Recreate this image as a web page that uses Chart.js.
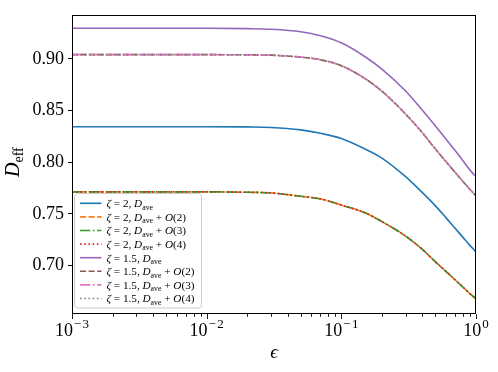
<!DOCTYPE html>
<html lang="en">
<head>
<meta charset="UTF-8">
<title>D_eff versus epsilon</title>
<script src="https://cdn.jsdelivr.net/npm/chart.js@4.4.0/dist/chart.umd.min.js"></script>
<style>
  html, body { margin: 0; padding: 0; background: #fff; }
</style>
</head>
<body>
<canvas id="chart" width="498" height="372"></canvas>
<script>
// values
const epsValues = [0.001, 0.01, 0.02, 0.03, 0.05, 0.07, 0.1, 0.15, 0.2, 0.3, 0.4, 0.5, 0.6, 0.7, 0.8, 0.9, 1.0];

const zeta2Ave   = [0.8344, 0.8344, 0.8342, 0.8337, 0.8313, 0.8280, 0.8230, 0.8128, 0.8040, 0.7860, 0.7705, 0.7577, 0.7461, 0.7360, 0.7272, 0.7195, 0.7132];
const zeta2O2    = [0.7713, 0.7713, 0.7709, 0.7703, 0.7670, 0.7645, 0.7585, 0.7510, 0.7425, 0.7285, 0.7155, 0.7035, 0.6941, 0.6861, 0.6790, 0.6728, 0.6676];
const zeta2O3    = [0.7713, 0.7713, 0.7709, 0.7703, 0.7670, 0.7645, 0.7585, 0.7510, 0.7425, 0.7285, 0.7155, 0.7035, 0.6941, 0.6861, 0.6790, 0.6728, 0.6676];
const zeta2O4    = [0.7713, 0.7713, 0.7709, 0.7703, 0.7670, 0.7645, 0.7585, 0.7510, 0.7425, 0.7285, 0.7155, 0.7035, 0.6941, 0.6861, 0.6790, 0.6728, 0.6676];
const zeta15Ave  = [0.9297, 0.9297, 0.9294, 0.9288, 0.9264, 0.9226, 0.9157, 0.9022, 0.8902, 0.8690, 0.8503, 0.8350, 0.8222, 0.8113, 0.8015, 0.7926, 0.7860];
const zeta15O2   = [0.9042, 0.9042, 0.9040, 0.9037, 0.9018, 0.8993, 0.8935, 0.8810, 0.8688, 0.8467, 0.8285, 0.8127, 0.8004, 0.7902, 0.7814, 0.7738, 0.7675];
const zeta15O3   = [0.9042, 0.9042, 0.9040, 0.9037, 0.9018, 0.8993, 0.8935, 0.8810, 0.8688, 0.8467, 0.8285, 0.8127, 0.8004, 0.7902, 0.7814, 0.7738, 0.7675];
const zeta15O4   = [0.9042, 0.9042, 0.9040, 0.9037, 0.9018, 0.8993, 0.8935, 0.8810, 0.8688, 0.8467, 0.8285, 0.8127, 0.8004, 0.7902, 0.7814, 0.7738, 0.7675];

const zetaLabels = ['2', '2', '2', '2', '1.5', '1.5', '1.5', '1.5'];
const orderLabels = [null, '2', '3', '4', null, '2', '3', '4'];
const yTickValues = [0.70, 0.75, 0.80, 0.85, 0.90];
const xTickExponents = [-3, -2, -1, 0];

// styles
const seriesColors = ['#1f77b4', '#ff7f0e', '#2ca02c', '#d62728', '#9467bd', '#8c564b', '#e377c2', '#7f7f7f'];
const lw = 1.6;
const solid = [], dashed = [6, 2.6], dashDot = [10.3, 2.6, 1.6, 2.6], dotted = [1.6, 2.6];
const seriesDashes = [solid, dashed, dashDot, dotted, solid, dashed, dashDot, dotted];
const allSeries = [zeta2Ave, zeta2O2, zeta2O3, zeta2O4, zeta15Ave, zeta15O2, zeta15O3, zeta15O4];

const SERIF = '"Liberation Serif", "DejaVu Serif", serif';

const datasets = allSeries.map((vals, i) => ({
    label: 'ζ = ' + zetaLabels[i] + ', D_ave' + (orderLabels[i] ? ' + O(' + orderLabels[i] + ')' : ''),
    data: vals.map((v, j) => ({x: epsValues[j], y: v})),
    borderColor: seriesColors[i],
    borderWidth: lw,
    borderDash: seriesDashes[i],
    pointRadius: 0,
    fill: false,
    cubicInterpolationMode: 'monotone',
    order: allSeries.length - 1 - i
}));

function drawMath(ctx, parts, x, y, size) {
    for (const p of parts) {
        const fs = p.sub ? size * 0.7 : size;
        ctx.font = (p.it ? 'italic ' : '') + fs + 'px ' + SERIF;
        ctx.fillText(p.t, x, y + (p.sub ? size * 0.22 : 0));
        x += ctx.measureText(p.t).width;
    }
    return x;
}

const decorations = {
    id: 'decorations',
    afterDraw(chart) {
        const ctx = chart.ctx;
        const a = chart.chartArea;
        const xs = chart.scales.x;
        ctx.save();

        // frame
        ctx.strokeStyle = '#000';
        ctx.lineWidth = 1;
        ctx.strokeRect(Math.round(a.left) + 0.5, Math.round(a.top) + 0.5,
                       Math.round(a.right - a.left) - 1, Math.round(a.bottom - a.top) - 1);

        // x ticks (major + minor)
        ctx.beginPath();
        xs.ticks.forEach(t => {
            const px = Math.round(xs.getPixelForValue(t.value)) + 0.5;
            const lg = Math.log10(t.value);
            const major = Math.abs(lg - Math.round(lg)) < 1e-9;
            ctx.moveTo(px, a.bottom);
            ctx.lineTo(px, a.bottom + (major ? 5 : 2.8));
        });
        ctx.lineWidth = 0.9;
        ctx.stroke();

        // x tick labels 10^n
        ctx.fillStyle = '#000';
        ctx.textBaseline = 'alphabetic';
        ctx.textAlign = 'left';
        xTickExponents.forEach(e => {
            const px = xs.getPixelForValue(Math.pow(10, e));
            ctx.font = '18px ' + SERIF;
            const wb = ctx.measureText('10').width;
            ctx.font = '13px ' + SERIF;
            const wm = e < 0 ? ctx.measureText('\u2212').width + 1.5 : 0;
            const wd = ctx.measureText(String(Math.abs(e))).width;
            const x0 = px - (wb + 0.8 + wm + wd) / 2;
            ctx.font = '18px ' + SERIF;
            ctx.fillText('10', x0, 336);
            ctx.font = '13px ' + SERIF;
            let sx = x0 + wb + 0.8;
            if (e < 0) { ctx.fillText('\u2212', sx, 328); sx += wm; }
            ctx.fillText(String(Math.abs(e)), sx, 328);
        });

        // x axis label
        ctx.font = 'italic 19px ' + SERIF;
        ctx.textAlign = 'center';
        ctx.fillText('\u03f5', (a.left + a.right) / 2, 358);

        // y axis label D_eff
        ctx.save();
        ctx.translate(18.5, 177);
        ctx.rotate(-Math.PI / 2);
        ctx.textAlign = 'left';
        drawMath(ctx, [{t: 'D', it: true}, {t: 'eff', sub: true}], 0, 0, 20);
        ctx.restore();

        // legend
        const bx = 74.5, by = 193.5, bw = 127, bh = 114.5, r = 3;
        ctx.beginPath();
        ctx.moveTo(bx + r, by);
        ctx.arcTo(bx + bw, by, bx + bw, by + bh, r);
        ctx.arcTo(bx + bw, by + bh, bx, by + bh, r);
        ctx.arcTo(bx, by + bh, bx, by, r);
        ctx.arcTo(bx, by, bx + bw, by, r);
        ctx.closePath();
        ctx.fillStyle = 'rgba(255,255,255,0.8)';
        ctx.fill();
        ctx.strokeStyle = '#cccccc';
        ctx.lineWidth = 1;
        ctx.stroke();

        ctx.textAlign = 'left';
        chart.data.datasets.forEach((ds, i) => {
            const cy = 203.3 + i * 13.6;
            ctx.beginPath();
            ctx.setLineDash(ds.borderDash);
            ctx.strokeStyle = ds.borderColor;
            ctx.lineWidth = lw;
            ctx.moveTo(80, cy);
            ctx.lineTo(101.5, cy);
            ctx.stroke();
            ctx.setLineDash([]);
            ctx.fillStyle = '#000';
            const parts = [{t: 'ζ', it: true}, {t: ' = ' + zetaLabels[i] + ', '}, {t: 'D', it: true}, {t: 'ave', sub: true}];
            if (orderLabels[i]) {
                parts.push({t: ' + '}, {t: 'O', it: true}, {t: '(' + orderLabels[i] + ')'});
            }
            drawMath(ctx, parts, 106.5, cy + 3.8, 11.2);
        });
        ctx.restore();
    }
};

new Chart(document.getElementById('chart'), {
    type: 'line',
    data: {datasets: datasets},
    options: {
        responsive: false,
        animation: false,
        devicePixelRatio: 1,
        layout: {padding: {top: 12, right: 22, left: 0, bottom: 0}},
        plugins: {legend: {display: false}, tooltip: {enabled: false}},
        scales: {
            x: {
                type: 'logarithmic',
                min: 0.001,
                max: 1,
                afterFit: s => { s.height = 58; },
                afterBuildTicks: s => {
                    const t = [];
                    xTickExponents.forEach(e => {
                        for (let m = 1; m < 10; m++) {
                            const v = m * Math.pow(10, e);
                            if (v <= 1 + 1e-9) t.push({value: v});
                        }
                    });
                    s.ticks = t;
                },
                ticks: {display: false},
                grid: {display: false},
                border: {display: false}
            },
            y: {
                type: 'linear',
                min: 0.653,
                max: 0.9428,
                afterFit: s => { s.width = 72; },
                afterBuildTicks: s => { s.ticks = yTickValues.map(v => ({value: v})); },
                ticks: {
                    color: '#000',
                    padding: 4,
                    font: {family: SERIF, size: 18},
                    callback: v => v.toFixed(2)
                },
                grid: {drawOnChartArea: false, drawTicks: true, tickLength: 4, tickColor: '#000', tickWidth: 1},
                border: {display: false}
            }
        }
    },
    plugins: [decorations]
});
</script>
</body>
</html>
